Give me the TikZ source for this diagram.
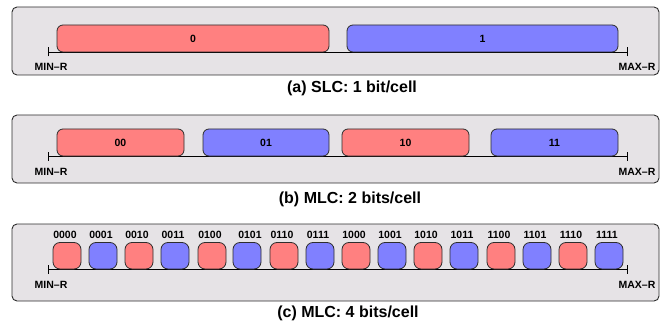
\documentclass[tikz,border=0pt]{standalone}
\usepackage{fontspec}
\setmainfont{Liberation Sans}
\definecolor{panelbg}{RGB}{230,227,230}
\definecolor{cellred}{RGB}{255,128,128}
\definecolor{cellblue}{RGB}{128,128,255}
\definecolor{edgegray}{RGB}{45,45,45}
\tikzset{
  panel/.style={draw=edgegray, fill=panelbg, line width=0.9pt, rounded corners=5pt},
  redcell/.style={draw=edgegray, fill=cellred, line width=0.8pt, rounded corners=6pt},
  bluecell/.style={draw=edgegray, fill=cellblue, line width=0.8pt, rounded corners=6pt},
  lbl/.style={font=\fontsize{10.5}{12}\selectfont\bfseries, inner sep=0pt},
  endlbl/.style={font=\fontsize{10.5}{12}\selectfont\bfseries, inner sep=0pt},
  captext/.style={font=\fontsize{16}{18}\selectfont\bfseries, inner sep=0pt},
  axis/.style={draw=black, line width=0.8pt},
}
\begin{document}
\begin{tikzpicture}[x=1pt,y=-1pt]
\useasboundingbox (0,0) rectangle (669,326);
% ---------- (a) ----------
\draw[panel] (12,7) rectangle (659,75);
\coordinate (aL) at (48,52);
\coordinate (aR) at (627,52);
\draw[axis] (aL) -- (aR);
\draw[axis] ([yshift=-4.5pt]aL) -- ([yshift=4.5pt]aL);
\draw[axis] ([yshift=-4.5pt]aR) -- ([yshift=4.5pt]aR);
\draw[redcell] (57,25) rectangle (329,52);
\draw[bluecell] (347,25) rectangle (618,52);
\node[lbl] (a0) at (193,38.5) {0};
\node[lbl] (a1) at (482.5,38.5) {1};
\node[endlbl] (aminr) at (51,67) {MIN–R};
\node[endlbl] (amaxr) at (637,67) {MAX–R};
\node[captext] (acap) at (352,88) {(a) SLC: 1 bit/cell};
% ---------- (b) ----------
\draw[panel] (12,115) rectangle (659,183);
\coordinate (bL) at (48,156);
\coordinate (bR) at (627,156);
\draw[axis] (bL) -- (bR);
\draw[axis] ([yshift=-4.5pt]bL) -- ([yshift=4.5pt]bL);
\draw[axis] ([yshift=-4.5pt]bR) -- ([yshift=4.5pt]bR);
\draw[redcell] (57,129) rectangle (184,156);
\draw[bluecell] (203,129) rectangle (329,156);
\draw[redcell] (342,129) rectangle (469,156);
\draw[bluecell] (491,129) rectangle (618,156);
\node[lbl] (b00) at (120.5,142.5) {00};
\node[lbl] (b01) at (266,142.5) {01};
\node[lbl] (b10) at (405.5,142.5) {10};
\node[lbl] (b11) at (554.5,142.5) {11};
\node[endlbl] (bminr) at (51,172) {MIN–R};
\node[endlbl] (bmaxr) at (637,172) {MAX–R};
\node[captext] (bcap) at (350,199) {(b) MLC: 2 bits/cell};
% ---------- (c) ----------
\draw[panel] (12,224) rectangle (659,301);
\coordinate (cL) at (48,269);
\coordinate (cR) at (627,269);
\draw[axis] (cL) -- (cR);
\draw[axis] ([yshift=-4.5pt]cL) -- ([yshift=4.5pt]cL);
\draw[axis] ([yshift=-4.5pt]cR) -- ([yshift=4.5pt]cR);
\foreach \x/\t/\s/\d [count=\i] in {53/0000/redcell/-2, 89/0001/bluecell/-2, 125/0010/redcell/-2, 161/0011/bluecell/-2,
    198/0100/redcell/-2, 233/0101/bluecell/3, 270/0110/redcell/-2, 306/0111/bluecell/-2,
    342/1000/redcell/-2, 378/1001/bluecell/-2, 414/1010/redcell/-2, 450/1011/bluecell/-2,
    487/1100/redcell/-2, 523/1101/bluecell/-2, 559/1110/redcell/-2, 595/1111/bluecell/-2}{
  \draw[\s, rounded corners=7pt] (\x,242.5) rectangle ++(28,26.5);
  \node[lbl] (c\i) at (\x+14+\d,234.5) {\t};
}
\node[endlbl] (cminr) at (51,285) {MIN–R};
\node[endlbl] (cmaxr) at (637,285) {MAX–R};
\node[captext] (ccap) at (348,313.5) {(c) MLC: 4 bits/cell};
\end{tikzpicture}
\end{document}
